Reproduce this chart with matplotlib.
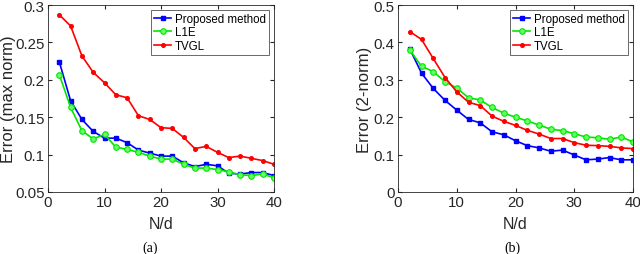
import matplotlib
matplotlib.use('Agg')
import matplotlib.pyplot as plt

nd = [2, 4, 6, 8, 10, 12, 14, 16, 18, 20, 22, 24, 26, 28, 30, 32, 34, 36, 38, 40]

# (a) max norm
max_proposed = [0.224, 0.172, 0.147, 0.131, 0.122, 0.122, 0.116, 0.106, 0.102, 0.098,
                0.098, 0.089, 0.084, 0.087, 0.085, 0.075, 0.074, 0.076, 0.076, 0.072]
max_l1e = [0.207, 0.163, 0.132, 0.121, 0.127, 0.110, 0.107, 0.103, 0.098, 0.094,
           0.094, 0.087, 0.082, 0.082, 0.080, 0.077, 0.073, 0.072, 0.074, 0.069]
max_tvgl = [0.287, 0.272, 0.232, 0.210, 0.196, 0.180, 0.176, 0.152, 0.147, 0.136,
            0.135, 0.123, 0.108, 0.111, 0.103, 0.096, 0.098, 0.095, 0.092, 0.087]

# (b) 2-norm
two_proposed = [0.383, 0.318, 0.277, 0.245, 0.219, 0.194, 0.185, 0.161, 0.153, 0.137,
                0.124, 0.118, 0.109, 0.112, 0.099, 0.086, 0.088, 0.092, 0.086, 0.086]
two_l1e = [0.380, 0.336, 0.322, 0.295, 0.278, 0.252, 0.246, 0.226, 0.211, 0.200,
           0.190, 0.179, 0.168, 0.164, 0.156, 0.147, 0.145, 0.141, 0.147, 0.134]
two_tvgl = [0.429, 0.408, 0.357, 0.306, 0.268, 0.240, 0.231, 0.203, 0.189, 0.178,
            0.165, 0.155, 0.143, 0.143, 0.132, 0.125, 0.124, 0.122, 0.118, 0.116]

plt.rcParams['font.family'] = ['Liberation Sans', 'DejaVu Sans']

fig = plt.figure(figsize=(6.4, 2.55), dpi=100)
ax1 = fig.add_axes([48 / 640, 1 - 193 / 255, 226 / 640, 187 / 255])
ax2 = fig.add_axes([398 / 640, 1 - 193 / 255, 235 / 640, 187 / 255])


def draw(ax, prop, l1e, tvgl, ylabel, ylim, yticks, yticklabels, label_x):
    ax.plot(nd, prop, color='#0000ff', marker='s', markersize=3, lw=1.2,
            label='Proposed method')
    ax.plot(nd, l1e, color='#00e600', marker='o', markersize=4, lw=1.2,
            markerfacecolor='#66ff66', markeredgewidth=0.8, label='L1E')
    ax.plot(nd, tvgl, color='#ff0000', marker='o', markersize=2.6, lw=1.2,
            label='TVGL')
    ax.set_xlim(0, 40)
    ax.set_ylim(*ylim)
    ax.set_xticks([0, 10, 20, 30, 40])
    ax.set_yticks(yticks)
    ax.set_yticklabels(yticklabels)
    ax.set_xlabel('N/d', fontsize=11.5, color='#262626', labelpad=5)
    ax.set_ylabel(ylabel, fontsize=12, color='#262626')
    # label anchor is its right edge on screen
    ax.yaxis.set_label_coords(label_x, 0.5)
    ax.tick_params(direction='in', length=3, labelsize=10.8, colors='#262626',
                   top=True, right=True, pad=2.5)
    for s in ax.spines.values():
        s.set_color('#262626')
        s.set_linewidth(0.6)
    leg = ax.legend(loc='upper right', fontsize=8.3, frameon=True, fancybox=False,
                    edgecolor='#262626', borderpad=0.3, labelspacing=0.12,
                    handlelength=1.5, handletextpad=0.3, borderaxespad=0.4)
    leg.get_frame().set_linewidth(0.6)


draw(ax1, max_proposed, max_l1e, max_tvgl, 'Error (max norm)', (0.05, 0.3),
     [0.05, 0.1, 0.15, 0.2, 0.25, 0.3], ['0.05', '0.1', '0.15', '0.2', '0.25', '0.3'],
     (16 - 48) / 226)
draw(ax2, two_proposed, two_l1e, two_tvgl, 'Error (2-norm)', (0, 0.5),
     [0, 0.1, 0.2, 0.3, 0.4, 0.5], ['0', '0.1', '0.2', '0.3', '0.4', '0.5'],
     (372 - 398) / 235)

fig.text(150 / 640, 1 - 248 / 255, '(a)', ha='center', va='center', fontsize=10,
         family=['Liberation Serif'])
fig.text(512 / 640, 1 - 248 / 255, '(b)', ha='center', va='center', fontsize=10,
         family=['Liberation Serif'])

fig.savefig('out.png', dpi=100)
